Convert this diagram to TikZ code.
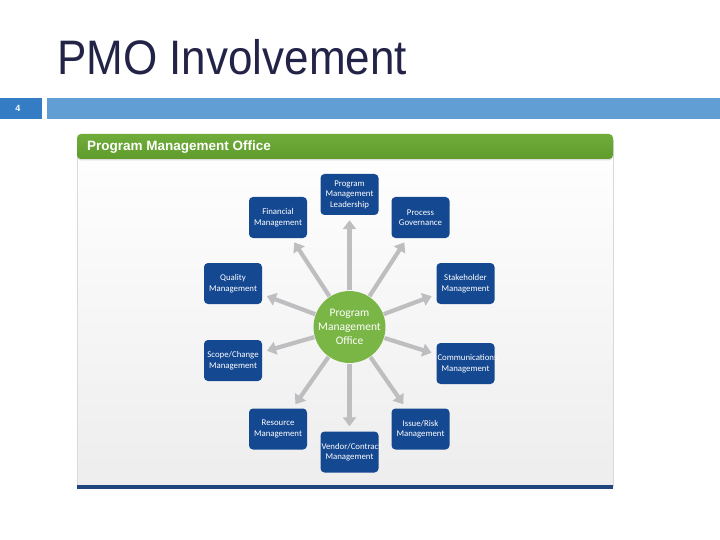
\documentclass[tikz,border=0pt]{standalone}
\usepackage{fontspec}
\setmainfont{Liberation Sans}
\newfontfamily\boxfont{Carlito}
\usetikzlibrary{arrows.meta, positioning, shadows}
\definecolor{titleblue}{RGB}{35,35,72}
\definecolor{numblue}{RGB}{52,124,196}
\definecolor{barblue}{RGB}{96,158,212}
\definecolor{pmogreen}{RGB}{122,182,70}
\definecolor{headgreen}{RGB}{112,172,58}
\definecolor{headgreendark}{RGB}{96,156,44}
\definecolor{areablue}{RGB}{20,72,145}
\definecolor{navyline}{RGB}{30,70,124}
\definecolor{spokegray}{RGB}{190,190,192}
\tikzset{
    area/.style={rectangle, rounded corners=4pt, fill=areablue, text=white,
        minimum width=58pt, minimum height=41pt, text width=56pt, inner sep=1pt, align=center,
        font=\boxfont\fontsize{8.8}{10.5}\selectfont},
    hub/.style={circle, fill=pmogreen, text=white, minimum size=64pt, inner sep=0pt,
        align=center, font=\boxfont\fontsize{11.5}{14}\selectfont},
    spoke/.style={-{Triangle[length=9pt, width=13pt]}, line width=4.2pt, draw=spokegray,
        shorten <=0.5pt, shorten >=5pt}
}

\begin{document}
\begin{tikzpicture}[x=1pt, y=-1pt]
    \useasboundingbox[fill=white] (0,0) rectangle (720,540);

    % slide title and number bar
    \node[anchor=base west, inner sep=0pt, text=titleblue] (title) at (57,75)
        {\scalebox{1}[1.1]{\fontsize{44}{50}\selectfont PMO Involvement}};
    \fill[numblue] (0,98) rectangle (42,119);
    \node[text=white, font=\bfseries\fontsize{9}{10}\selectfont] (num) at (18,108.5) {4};
    \fill[barblue] (47,98) rectangle (720,119);

    % panel
    \shade[top color=white, bottom color=gray!14] (77,140) rectangle (613,487);
    \draw[gray!30, line width=0.6pt] (77,140) -- (77,487) (613,140) -- (613,487);
    \fill[navyline] (77,485) rectangle (613,488.5);
    \shade[top color=headgreen, bottom color=headgreendark, rounded corners=4pt,
        drop shadow={opacity=0.25, shadow xshift=0pt, shadow yshift=-1.5pt}]
        (77,134) rectangle (613,159);
    \node[anchor=base west, inner sep=0pt, text=white,
        font=\bfseries\fontsize{13.5}{15}\selectfont] (head) at (87,151) {Program Management Office};

    % hub and areas
    \node[hub] (pmo) at (349.5,327) {Program\\Management\\Office};
    \node[area] (lead) at (349.5,194.5) {Program\\Management\\Leadership};
    \node[area] (fin) at (278,217.5) {Financial\\Management};
    \node[area] (proc) at (420.5,217.5) {Process\\Governance};
    \node[area] (qual) at (233,283.5) {Quality\\Management};
    \node[area] (stake) at (465.5,283.5) {Stakeholder\\Management};
    \node[area] (scope) at (233,360.5) {Scope/Change\\Management};
    \node[area] (comm) at (465.5,363.5) {Communications\\Management};
    \node[area] (res) at (278,429) {Resource\\Management};
    \node[area] (risk) at (420.5,429) {Issue/Risk\\Management};
    \node[area] (vend) at (349.5,452) {Vendor/Contract\\Management};

    \foreach \a in {lead, fin, proc, qual, stake, scope, comm, res, risk, vend}
        \draw[spoke] (pmo) -- (\a);
\end{tikzpicture}
\end{document}
